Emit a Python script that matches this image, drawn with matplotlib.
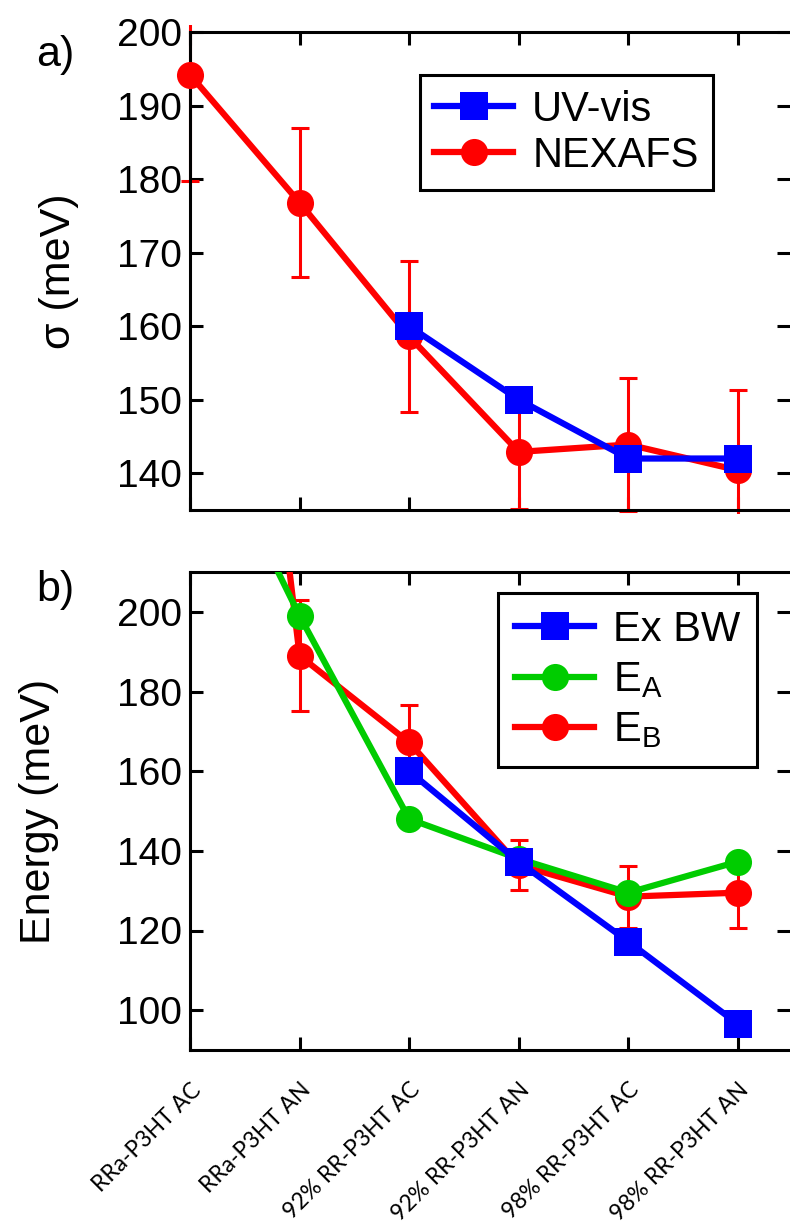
import numpy as np
import matplotlib
matplotlib.use("Agg")
import matplotlib.pyplot as plt
from matplotlib.lines import Line2D
from matplotlib.transforms import Bbox, TransformedBbox

plt.rcParams['font.family'] = ['Liberation Sans', 'DejaVu Sans']
plt.rcParams['mathtext.fontset'] = 'custom'
plt.rcParams['mathtext.rm'] = 'Liberation Sans'
plt.rcParams['mathtext.it'] = 'Liberation Sans'

# Sample names along the shared x axis
samples = ["RRa-P3HT AC", "RRa-P3HT AN", "92% RR-P3HT AC",
           "92% RR-P3HT AN", "98% RR-P3HT AC", "98% RR-P3HT AN"]

# Panel a: disorder width sigma (meV)
sigma_uvvis = [np.nan, np.nan, 160, 150, 142, 142]
sigma_nexafs = [194.2, 176.8, 158.6, 142.9, 143.9, 140.4]
sigma_nexafs_err = [14.5, 10.1, 10.3, 7.8, 9.1, 10.9]

# Panel b: energies (meV)
ex_bw = [np.nan, np.nan, 160, 137.2, 117.2, 96.5]
e_a = [255, 199, 148, 138, 129.5, 137.3]
e_b = [420, 189, 167.2, 136.4, 128.5, 129.5]
e_b_err = [np.nan, 14, 9.3, 6.3, 7.8, 8.8]

BLUE = '#0000ff'
RED = '#ff0000'
GREEN = '#00cc00'

W, H = 790, 1230
fig = plt.figure(figsize=(W / 100, H / 100), dpi=100)

def px_axes(x0, y0, x1, y1):
    return fig.add_axes([x0 / W, 1 - y1 / H, (x1 - x0) / W, (y1 - y0) / H])

def px_clip(x0, y0, x1, y1):
    return TransformedBbox(Bbox([[x0 / W, 1 - y1 / H], [x1 / W, 1 - y0 / H]]),
                           fig.transFigure)

ax_a = px_axes(190, 32, 790, 510)
ax_b = px_axes(190, 572, 790, 1050)

x = np.arange(len(samples))
lw = 4.5
ms = 19.5
tick_fs = 28

line_kw = dict(lw=lw, ms=ms, markeredgewidth=0)
err_kw = dict(fmt='none', ecolor=RED, elinewidth=2.2, capsize=6.5, capthick=2.2)

# ---- panel a ----  (markers may spill past the left spine)
clip_a = px_clip(0, 25, W, 514)
eb_a = ax_a.errorbar(x, sigma_nexafs, yerr=sigma_nexafs_err, zorder=2, **err_kw)
ln_nex, = ax_a.plot(x, sigma_nexafs, color=RED, marker='o', zorder=3, **line_kw)
ln_uv, = ax_a.plot(x, sigma_uvvis, color=BLUE, marker='s', zorder=4, **line_kw)
for art in [ln_nex, ln_uv, *eb_a.lines[1], *eb_a.lines[2]]:
    art.set_clip_path(None)
    art.set_clip_box(clip_a)

ax_a.set_ylim(135, 200)
ax_a.set_yticks([140, 150, 160, 170, 180, 190, 200])
ax_a.set_ylabel("σ (meV)", fontsize=31)
ax_a.yaxis.set_label_coords((79 - 190) / 600, 0.5)

h_a = [Line2D([], [], color=BLUE, marker='s', **line_kw),
       Line2D([], [], color=RED, marker='o', **line_kw)]
leg_a = ax_a.legend(h_a, ["UV-vis", "NEXAFS"], loc='upper right',
                    bbox_to_anchor=(0.872, 0.910), borderaxespad=0,
                    fontsize=30, fancybox=False, framealpha=1,
                    edgecolor='black', handlelength=1.9, handletextpad=0.45,
                    labelspacing=0.15, borderpad=0.35)
leg_a.get_frame().set_linewidth(2.2)

# ---- panel b ----
ax_b.errorbar(x, e_b, yerr=e_b_err, zorder=2, **err_kw)
ax_b.plot(x, e_b, color=RED, marker='o', zorder=3, **line_kw)
ax_b.plot(x, e_a, color=GREEN, marker='o', zorder=4, **line_kw)
ax_b.plot(x, ex_bw, color=BLUE, marker='s', zorder=5, **line_kw)
ax_b.set_ylim(90, 210)
ax_b.set_yticks([100, 120, 140, 160, 180, 200])
ax_b.set_ylabel("Energy (meV)", fontsize=31)
ax_b.yaxis.set_label_coords((59 - 190) / 600, 0.5)

h_b = [Line2D([], [], color=BLUE, marker='s', **line_kw),
       Line2D([], [], color=GREEN, marker='o', **line_kw),
       Line2D([], [], color=RED, marker='o', **line_kw)]
leg_b = ax_b.legend(h_b, ["Ex BW", "E$_\\mathregular{A}$", "E$_\\mathregular{B}$"],
                    loc='upper right', bbox_to_anchor=(0.945, 0.956),
                    borderaxespad=0, fontsize=30, fancybox=False, framealpha=1,
                    edgecolor='black', handlelength=1.9, handletextpad=0.45,
                    labelspacing=0.25, borderpad=0.4)
leg_b.get_frame().set_linewidth(2.2)

for ax in (ax_a, ax_b):
    ax.set_xlim(0, (790 - 190) / 109.6)
    ax.set_xticks(x)
    for side in ('left', 'top', 'bottom'):
        ax.spines[side].set_linewidth(2.2)
    ax.spines['right'].set_visible(False)
    ax.tick_params(axis='both', direction='in', length=9.5, width=2.2,
                   top=True, right=True, labelsize=tick_fs, pad=6)

ax_a.set_xticklabels([])
ax_b.set_xticklabels(samples, rotation=45, ha='right', rotation_mode='anchor',
                     fontsize=16.5, family=['Lato', 'DejaVu Sans'])
ax_b.tick_params(axis='x', pad=21)

fig.text(55 / W, 1 - 55 / H, "a)", fontsize=31, ha='center', va='center')
fig.text(55 / W, 1 - 590 / H, "b)", fontsize=31, ha='center', va='center')

fig.savefig("out.png", dpi=100)
